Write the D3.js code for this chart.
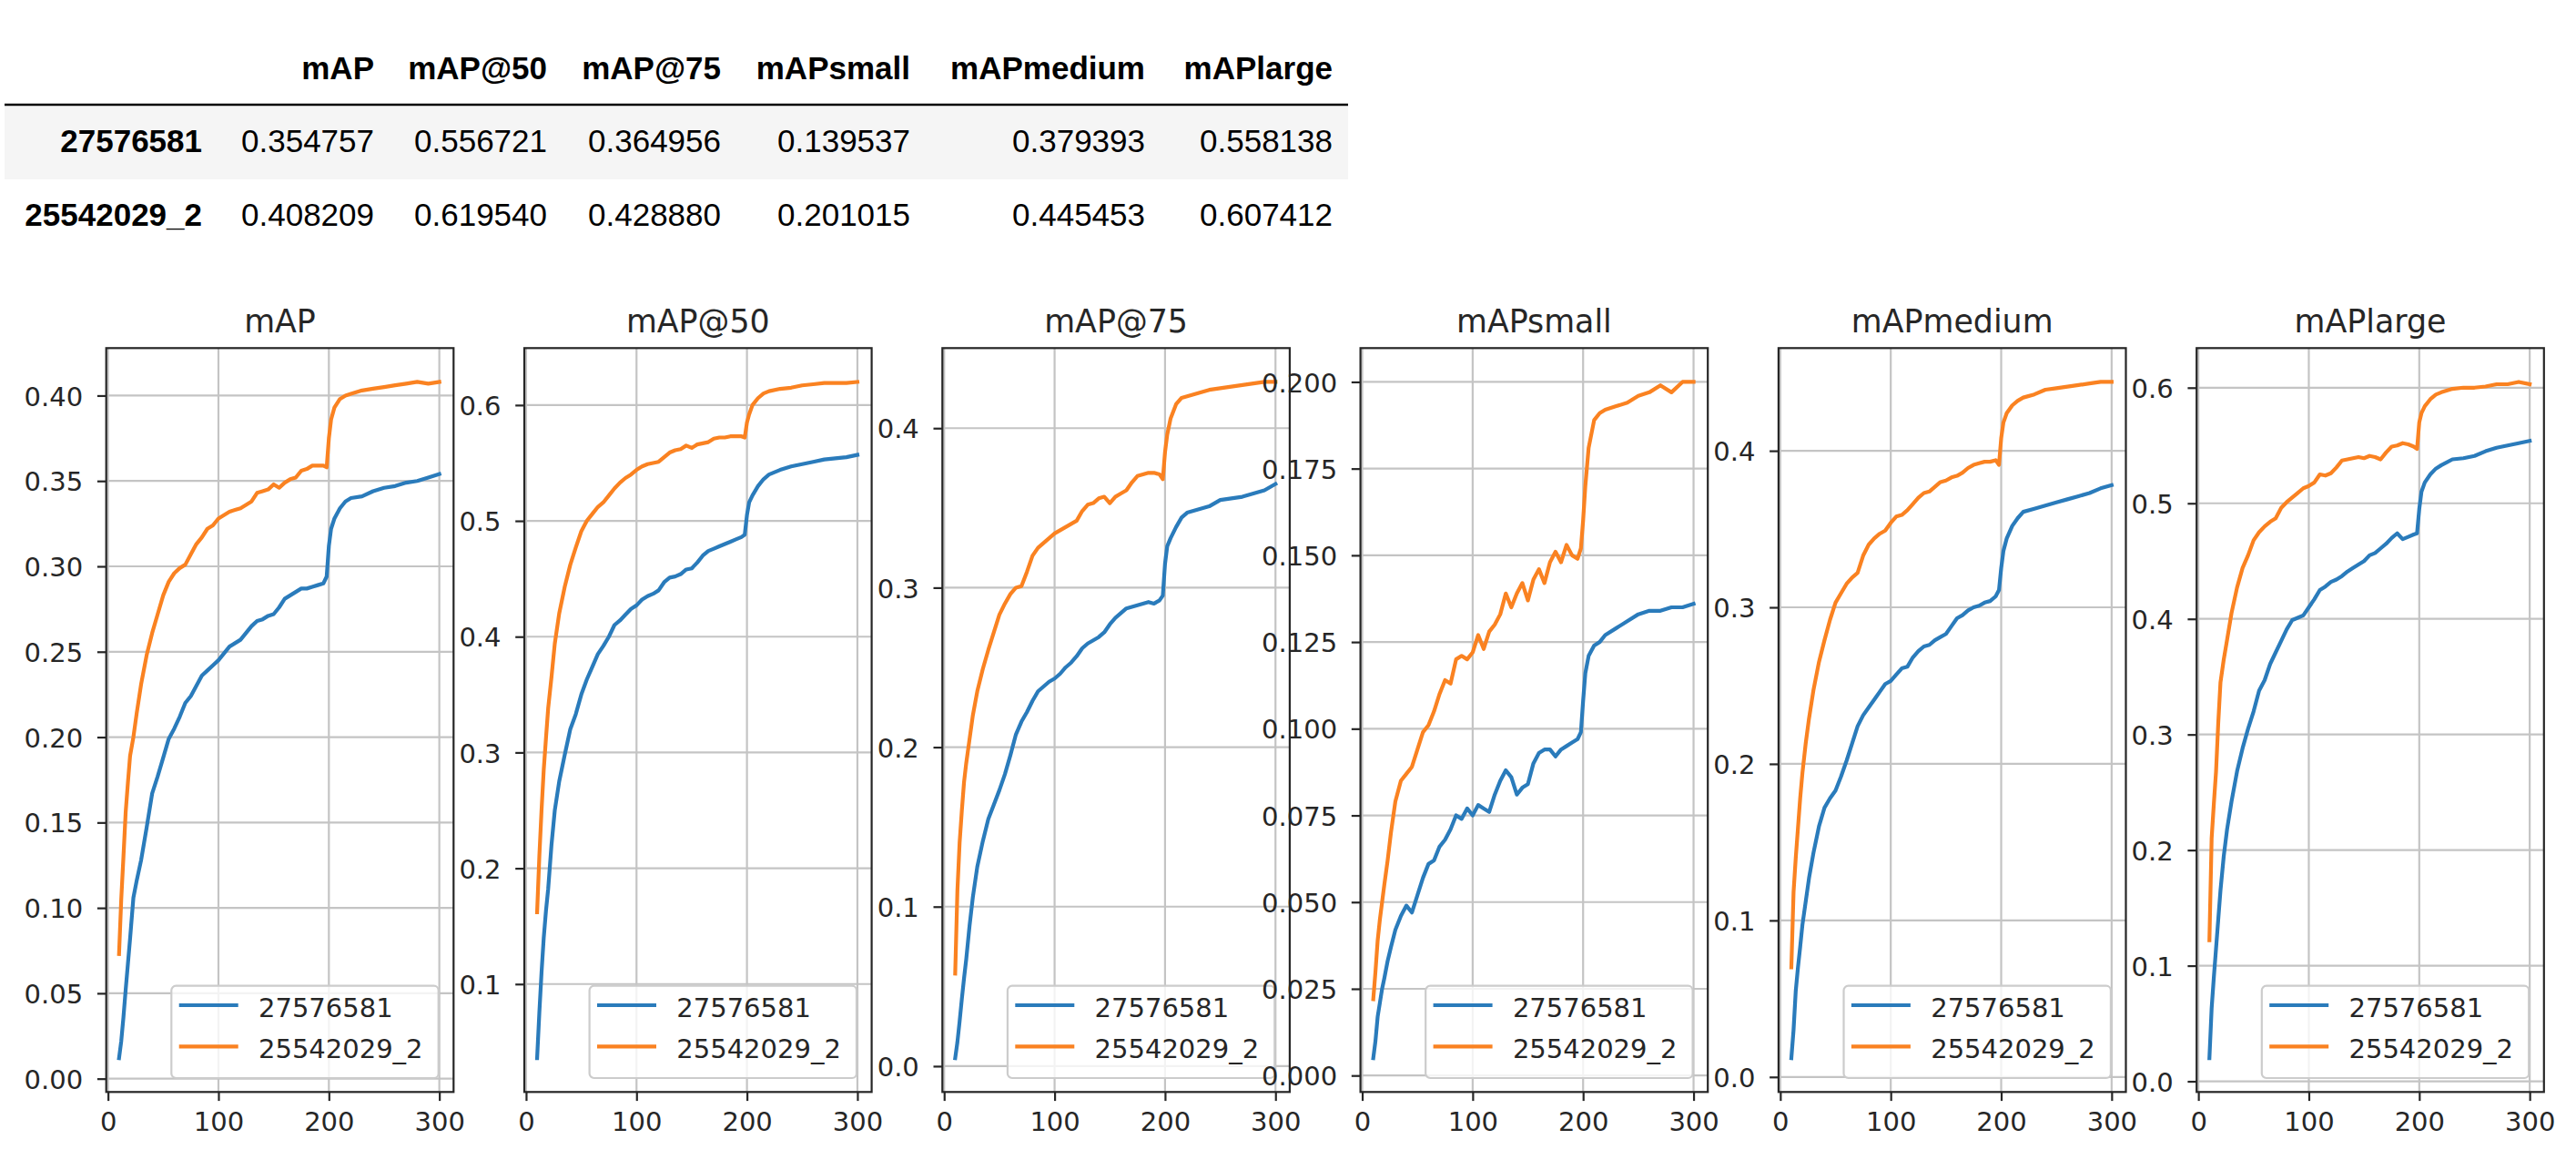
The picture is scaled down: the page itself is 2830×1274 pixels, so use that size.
<!DOCTYPE html>
<html><head><meta charset="utf-8">
<script src="https://cdn.jsdelivr.net/npm/d3@7"></script>
<style>body{margin:0;background:#fff;} svg{display:block;}</style>
</head><body><svg id="c" width="2830" height="1274"></svg>
<script>
// ---------------- DATA ----------------
const seriesNames = ["27576581", "25542029_2"];
const metrics = ["mAP", "mAP@50", "mAP@75", "mAPsmall", "mAPmedium", "mAPlarge"];
const tableRowA = [0.354757, 0.556721, 0.364956, 0.139537, 0.379393, 0.558138];
const tableRowB = [0.408209, 0.619540, 0.428880, 0.201015, 0.445453, 0.607412];

const epochs = [10,12,14,16,18,20,23,26,30,35,40,45,50,55,60,65,70,75,80,85,90,95,100,105,110,115,120,125,130,135,140,145,150,155,160,165,170,175,180,185,190,195,198,200,202,205,210,215,220,230,240,250,260,270,280,290,300];

const mapA = [.012,.022,.036,.052,.067,.082,.106,.116,.128,.147,.167,.177,.188,.199,.205,.212,.220,.224,.230,.236,.239,.242,.245,.249,.253,.255,.257,.261,.265,.268,.269,.271,.272,.276,.281,.283,.285,.287,.287,.288,.289,.290,.294,.312,.322,.328,.334,.338,.340,.341,.344,.346,.347,.349,.350,.352,.354];
const mapB = [.073,.105,.130,.156,.173,.189,.200,.214,.231,.248,.261,.272,.283,.291,.296,.299,.301,.307,.313,.317,.322,.324,.328,.330,.332,.333,.334,.336,.338,.343,.344,.345,.348,.346,.349,.351,.352,.356,.357,.359,.359,.359,.358,.375,.386,.393,.398,.400,.401,.403,.404,.405,.406,.407,.408,.407,.408];

const map50A = [.036,.075,.110,.140,.163,.182,.220,.250,.275,.298,.320,.333,.350,.363,.374,.385,.392,.400,.410,.414,.419,.424,.427,.432,.435,.437,.440,.447,.451,.452,.454,.458,.459,.464,.470,.474,.476,.478,.480,.482,.484,.486,.488,.505,.516,.522,.530,.536,.540,.544,.547,.549,.551,.553,.554,.555,.557];
const map50B = [.162,.210,.250,.285,.312,.338,.365,.394,.420,.443,.462,.477,.491,.500,.506,.512,.516,.522,.528,.533,.537,.540,.544,.547,.549,.550,.551,.555,.559,.561,.562,.565,.563,.566,.567,.568,.571,.572,.572,.573,.573,.573,.572,.585,.592,.600,.606,.610,.612,.614,.615,.617,.618,.619,.619,.619,.620];

const map75A = [.005,.015,.028,.042,.055,.067,.088,.106,.125,.141,.155,.164,.173,.183,.195,.208,.216,.222,.229,.235,.238,.241,.243,.246,.250,.253,.257,.262,.265,.267,.269,.272,.277,.281,.284,.287,.288,.289,.290,.291,.290,.292,.295,.315,.326,.331,.338,.344,.347,.349,.351,.355,.356,.357,.359,.361,.365];
const map75B = [.058,.110,.140,.160,.178,.190,.205,.220,.235,.249,.261,.272,.283,.290,.296,.300,.301,.310,.320,.325,.328,.331,.334,.336,.338,.340,.342,.348,.352,.353,.356,.357,.353,.357,.359,.361,.366,.370,.371,.372,.372,.371,.368,.385,.396,.406,.415,.419,.420,.422,.424,.425,.426,.427,.428,.429,.429];

const smallA = [.005,.010,.017,.021,.025,.028,.033,.037,.042,.046,.049,.047,.052,.057,.061,.062,.066,.068,.071,.075,.074,.077,.075,.078,.077,.076,.081,.085,.088,.086,.081,.083,.084,.090,.093,.094,.094,.092,.094,.095,.096,.097,.099,.108,.116,.121,.124,.125,.127,.129,.131,.133,.134,.134,.135,.135,.136];
const smallB = [.022,.030,.039,.045,.050,.055,.062,.070,.079,.085,.087,.089,.094,.099,.101,.105,.110,.114,.113,.120,.121,.120,.122,.127,.123,.128,.130,.133,.139,.135,.139,.142,.137,.143,.146,.142,.148,.151,.148,.153,.150,.149,.152,.160,.170,.181,.189,.191,.192,.193,.194,.196,.197,.199,.197,.200,.200];

const mediumA = [.012,.030,.055,.070,.083,.097,.112,.127,.143,.160,.172,.178,.183,.192,.202,.213,.224,.231,.236,.241,.246,.251,.253,.257,.261,.262,.268,.272,.275,.276,.279,.281,.283,.288,.293,.295,.298,.300,.301,.303,.304,.307,.311,.325,.336,.344,.352,.357,.361,.363,.365,.367,.369,.371,.373,.376,.378];
const mediumB = [.070,.118,.140,.159,.178,.194,.213,.229,.247,.265,.279,.292,.303,.309,.315,.319,.322,.333,.340,.344,.347,.349,.354,.358,.359,.362,.366,.370,.373,.374,.377,.380,.381,.383,.384,.386,.389,.391,.392,.393,.393,.394,.391,.408,.418,.424,.429,.432,.434,.436,.439,.440,.441,.442,.443,.444,.444];

const largeA = [.020,.063,.090,.115,.140,.165,.195,.218,.242,.268,.288,.305,.320,.338,.347,.361,.371,.381,.391,.399,.401,.403,.410,.417,.425,.428,.432,.434,.437,.441,.444,.447,.450,.455,.457,.461,.465,.470,.474,.469,.471,.473,.474,.495,.510,.518,.525,.530,.533,.538,.539,.541,.545,.548,.550,.552,.554];
const largeB = [.122,.210,.240,.268,.310,.345,.365,.382,.405,.427,.444,.455,.468,.475,.480,.484,.487,.496,.501,.505,.509,.513,.515,.518,.525,.524,.526,.531,.537,.538,.539,.540,.539,.541,.540,.538,.544,.549,.550,.552,.551,.549,.547,.570,.578,.584,.590,.594,.596,.599,.600,.600,.601,.603,.603,.605,.603];

const xTicks = [0, 100, 200, 300];
const yTicksMAP = [0, 0.05, 0.10, 0.15, 0.20, 0.25, 0.30, 0.35, 0.40];
const yTicksMAP50 = [0.1, 0.2, 0.3, 0.4, 0.5, 0.6];
const yTicksMAP75 = [0.0, 0.1, 0.2, 0.3, 0.4];
const yTicksSmall = [0, 0.025, 0.05, 0.075, 0.1, 0.125, 0.15, 0.175, 0.2];
const yTicksMedium = [0.0, 0.1, 0.2, 0.3, 0.4];
const yTicksLarge = [0.0, 0.1, 0.2, 0.3, 0.4, 0.5, 0.6];
const yFormats = [".2f", ".1f", ".1f", ".3f", ".1f", ".1f"];

// ---------------- LAYOUT / STYLE ----------------
const W = 2830, H = 1274;
const colors = ["#2a7bbb", "#fa8221"];
const svg = d3.select("#c");
svg.append("rect").attr("width", W).attr("height", H).attr("fill", "#fff");

// ---- table ----
const tableFont = "'Liberation Sans', Arial, Helvetica, sans-serif";
const colRight = [411, 601, 792, 1000, 1258, 1464];
const rowLabelRight = 222;
const headerBaseline = 87;
const rowBaselines = [167, 248];
const tbl = svg.append("g").attr("font-family", tableFont).attr("font-size", 35).attr("fill", "#000");
tbl.append("rect").attr("x", 5).attr("y", 117).attr("width", 1476).attr("height", 80).attr("fill", "#f5f5f5");
tbl.append("line").attr("x1", 5).attr("x2", 1481).attr("y1", 115).attr("y2", 115)
  .attr("stroke", "#000").attr("stroke-width", 2.5);
metrics.forEach((m, i) => {
  tbl.append("text").attr("x", colRight[i]).attr("y", headerBaseline)
    .attr("text-anchor", "end").attr("font-weight", "bold").text(m);
});
[tableRowA, tableRowB].forEach((row, r) => {
  tbl.append("text").attr("x", rowLabelRight).attr("y", rowBaselines[r])
    .attr("text-anchor", "end").attr("font-weight", "bold").text(seriesNames[r]);
  row.forEach((v, i) => {
    tbl.append("text").attr("x", colRight[i]).attr("y", rowBaselines[r])
      .attr("text-anchor", "end").text(v.toFixed(6));
  });
});

// ---- panels ----
const panelLeft0 = 116.7, panelStep = 459.3, panelW = 381.6;
const panelTop = 382.3, panelBottom = 1199.3;
const xDomain = [-1.6, 312.9];
const chartFont = "'DejaVu Sans', Verdana, sans-serif";
const tickFont = 29, titleFont = 34.8;
const textColor = "#262626";
const lineW = 4.2;

const panels = [
  { a: mapA, b: mapB, ticks: yTicksMAP },
  { a: map50A, b: map50B, ticks: yTicksMAP50 },
  { a: map75A, b: map75B, ticks: yTicksMAP75 },
  { a: smallA, b: smallB, ticks: yTicksSmall },
  { a: mediumA, b: mediumB, ticks: yTicksMedium },
  { a: largeA, b: largeB, ticks: yTicksLarge }
];

panels.forEach((p, i) => {
  const left = panelLeft0 + i * panelStep;
  const g = svg.append("g").attr("transform", `translate(${left},${panelTop})`)
    .attr("font-family", chartFont);
  const h = panelBottom - panelTop;
  const x = d3.scaleLinear().domain(xDomain).range([0, panelW]);
  const all = p.a.concat(p.b);
  const [mn, mx] = d3.extent(all);
  const pad = (mx - mn) * 0.05;
  const y = d3.scaleLinear().domain([mn - pad, mx + pad]).range([h, 0]);

  // axes background
  g.append("rect").attr("width", panelW).attr("height", h).attr("fill", "#fff");

  // grid
  g.append("g").selectAll("line").data(xTicks).join("line")
    .attr("x1", d => x(d)).attr("x2", d => x(d)).attr("y1", 0).attr("y2", h)
    .attr("stroke", "#c4c4c4").attr("stroke-width", 2.2);
  g.append("g").selectAll("line").data(p.ticks).join("line")
    .attr("x1", 0).attr("x2", panelW).attr("y1", d => y(d)).attr("y2", d => y(d))
    .attr("stroke", "#c4c4c4").attr("stroke-width", 2.2);

  // clip
  const cid = "clip" + i;
  g.append("clipPath").attr("id", cid).append("rect").attr("width", panelW).attr("height", h);

  const line = d3.line().x((d, k) => x(epochs[k])).y(d => y(d));
  [p.a, p.b].forEach((s, k) => {
    g.append("path").attr("clip-path", `url(#${cid})`).datum(s).attr("d", line)
      .attr("fill", "none").attr("stroke", colors[k]).attr("stroke-width", lineW)
      .attr("stroke-linejoin", "round").attr("stroke-linecap", "square");
  });

  // axes
  const xa = g.append("g").attr("transform", `translate(0,${h})`)
    .call(d3.axisBottom(x).tickValues(xTicks).tickFormat(d3.format("d")).tickSize(9.8).tickPadding(12));
  const ya = g.append("g")
    .call(d3.axisLeft(y).tickValues(p.ticks).tickFormat(d3.format(yFormats[i])).tickSize(9.8).tickPadding(15.7));
  [xa, ya].forEach(ax => {
    ax.select(".domain").remove();
    ax.selectAll(".tick line").attr("stroke", textColor).attr("stroke-width", 2.2);
    ax.selectAll(".tick text").attr("fill", textColor).attr("font-size", tickFont)
      .attr("font-family", chartFont);
  });
  ya.selectAll(".tick text").attr("dy", "0.365em");

  // spines
  g.append("rect").attr("width", panelW).attr("height", h).attr("fill", "none")
    .attr("stroke", textColor).attr("stroke-width", 2.2);

  // legend (lower right)
  const lw = 293.4, lh = 101.3;
  const lg = g.append("g").attr("transform", `translate(${panelW - 16.6 - lw},${h - 15.3 - lh})`);
  lg.append("rect").attr("width", lw).attr("height", lh).attr("rx", 5).attr("ry", 5)
    .attr("fill", "#fff").attr("fill-opacity", 0.8).attr("stroke", "#cccccc").attr("stroke-width", 2.2);
  seriesNames.forEach((nm, k) => {
    const cy = 21.3 + k * 45.3;
    lg.append("line").attr("x1", 8.4).attr("x2", 73.4).attr("y1", cy).attr("y2", cy)
      .attr("stroke", colors[k]).attr("stroke-width", lineW);
    lg.append("text").attr("x", 95.7).attr("y", cy + 12.7).attr("font-size", tickFont)
      .attr("fill", textColor).text(nm);
  });

  // title
  g.append("text").attr("x", panelW / 2).attr("y", -17).attr("text-anchor", "middle")
    .attr("font-size", titleFont).attr("fill", textColor).text(metrics[i]);
});
</script>
</body></html>
